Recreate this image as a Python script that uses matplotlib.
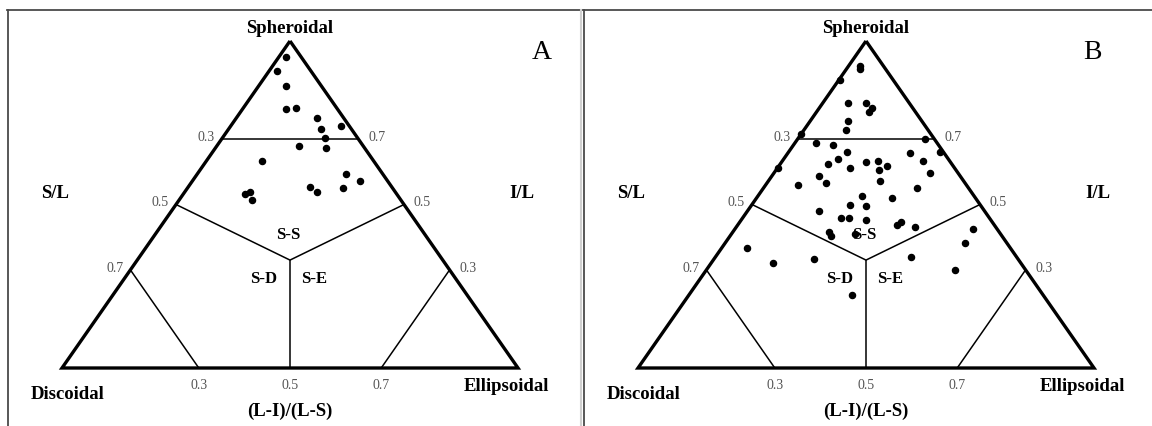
import matplotlib
matplotlib.use("Agg")
import matplotlib.pyplot as plt
from matplotlib.lines import Line2D
import numpy as np

W, H = 1152, 427
plt.rcParams["font.family"] = ["Liberation Serif", "DejaVu Serif"]

# S/L measured down from the apex, (L-I)/(L-S) measured across from Discoidal
sl_a = [0.048, 0.091, 0.138, 0.209, 0.205, 0.236, 0.260, 0.270, 0.298, 0.328,
        0.321, 0.367, 0.406, 0.428, 0.446, 0.463, 0.451, 0.468, 0.461, 0.485]
li_a = [0.33, 0.19, 0.44, 0.46, 0.56, 0.75, 0.93, 0.75, 0.76, 0.74,
        0.56, 0.33, 0.80, 0.86, 0.60, 0.63, 0.76, 0.29, 0.31, 0.33]

sl_b = [0.076, 0.086, 0.118, 0.191, 0.191, 0.206, 0.218, 0.246, 0.273, 0.284,
        0.300, 0.312, 0.317, 0.339, 0.339, 0.343, 0.362, 0.377, 0.370, 0.366,
        0.381, 0.366, 0.388, 0.395, 0.388, 0.404, 0.414, 0.427, 0.435, 0.441,
        0.450, 0.475, 0.481, 0.502, 0.504, 0.519, 0.541, 0.541, 0.547, 0.563,
        0.554, 0.570, 0.583, 0.595, 0.590, 0.574, 0.634, 0.618, 0.679, 0.666,
        0.662, 0.699, 0.776]
li_b = [0.33, 0.35, 0.02, 0.29, 0.50, 0.56, 0.53, 0.34, 0.34, 0.00,
        0.93, 0.15, 0.27, 0.38, 0.98, 0.78, 0.33, 0.28, 0.50, 0.57,
        0.62, 0.84, 0.41, 0.57, 0.00, 0.85, 0.25, 0.57, 0.30, 0.16,
        0.75, 0.48, 0.62, 0.43, 0.50, 0.30, 0.40, 0.43, 0.50, 0.62,
        0.64, 0.69, 0.36, 0.37, 0.46, 0.91, 0.09, 0.85, 0.20, 0.33,
        0.65, 0.78, 0.46]

ticks = [0.3, 0.5, 0.7]
center_sl = 0.67


def to_xy(sl, li):
    sl = np.asarray(sl, float)
    li = np.asarray(li, float)
    return 0.5 + (li - 0.5) * sl, 1.0 - sl


def draw_panel(ax, sl, li, letter, letter_x):
    ax.set_xlim(0, 1)
    ax.set_ylim(0, 1)
    ax.axis("off")
    kw = dict(color="black", clip_on=False, solid_capstyle="butt")

    # outer triangle
    tx, ty = to_xy([0, 1, 1, 0], [0.5, 0, 1, 0.5])
    ax.plot(tx, ty, lw=2.4, solid_joinstyle="miter", **kw)

    # class boundaries
    for s_pts, l_pts in [([0.3, 0.3], [0, 1]),
                         ([0.5, center_sl, 0.5], [0, 0.5, 1]),
                         ([center_sl, 1.0], [0.5, 0.5]),
                         ([0.7, 1.0], [0, 0.3]),
                         ([0.7, 1.0], [1, 0.7])]:
        x, y = to_xy(s_pts, l_pts)
        ax.plot(x, y, lw=1.1, **kw)

    # tick labels on the three sides
    tk = dict(fontsize=10, color="#555555", textcoords="offset points")
    for t in ticks:
        x, y = to_xy(t, 0)
        ax.annotate(f"{t:.1f}", (x, y), xytext=(-5, 2), ha="right", va="center", **tk)
        x, y = to_xy(t, 1)
        ax.annotate(f"{1 - t:.1f}", (x, y), xytext=(7, 2), ha="left", va="center", **tk)
        x, y = to_xy(1, t)
        ax.annotate(f"{t:.1f}", (x, y), xytext=(0, -12), ha="center", va="center", **tk)

    bold = dict(fontsize=13.5, fontweight="bold", ha="center", va="center")
    ax.text(0.5, 1.040, "Spheroidal", **bold)
    ax.text(-0.015, 0.538, "S/L", **bold)
    ax.text(1.009, 0.538, "I/L", **bold)
    ax.text(0.013, -0.077, "Discoidal", **bold)
    ax.text(0.975, -0.054, "Ellipsoidal", **bold)
    ax.text(0.4985, -0.129, "(L-I)/(L-S)", **bold)
    cls = dict(fontsize=12, fontweight="bold", ha="center", va="center")
    ax.text(0.496, 0.41, "S-S", **cls)
    ax.text(0.442, 0.275, "S-D", **cls)
    ax.text(0.553, 0.275, "S-E", **cls)
    ax.text(letter_x, 0.969, letter, fontsize=20, ha="center", va="center")

    x, y = to_xy(sl, li)
    ax.plot(x, y, "o", color="black", markersize=4.4, clip_on=False, zorder=5)


fig = plt.figure(figsize=(W / 100, H / 100), dpi=100)

ax_a = fig.add_axes([62 / W, 58 / H, 456 / W, 327 / H])
draw_panel(ax_a, sl_a, li_a, "A", 1.053)
ax_b = fig.add_axes([638 / W, 58 / H, 456 / W, 327 / H])
draw_panel(ax_b, sl_b, li_b, "B", 0.996)

# frames round the two panels
frame = dict(transform=fig.transFigure, color="#4a4a4a", lw=1.3)
fig.add_artist(Line2D([7 / W, 1], [1 - 11 / H] * 2, **frame))
fig.add_artist(Line2D([7.5 / W] * 2, [0, 1 - 11 / H], **frame))
fig.add_artist(Line2D([584 / W] * 2, [0, 1 - 11 / H], **frame))
fig.add_artist(Line2D([580.5 / W] * 2, [0, 1 - 11 / H], transform=fig.transFigure,
                      color="#d0d0d0", lw=1.5))

fig.savefig("out.png", dpi=100)
